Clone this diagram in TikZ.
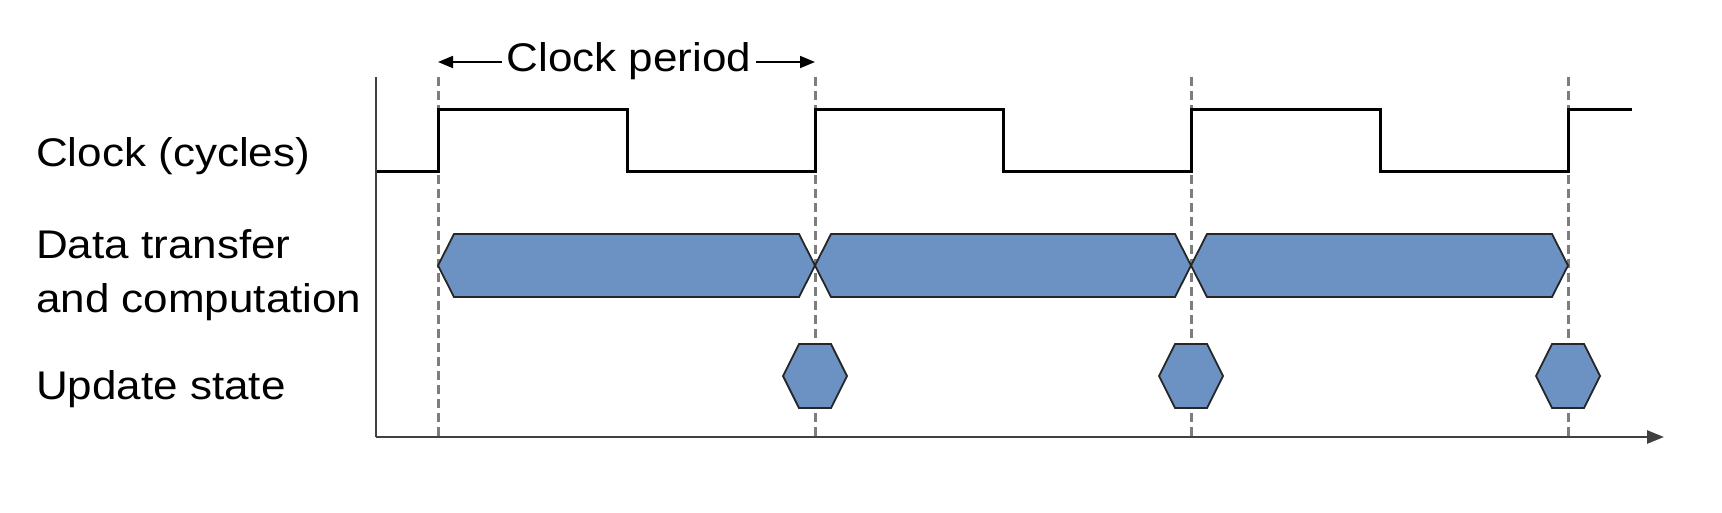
\documentclass[tikz,border=0pt]{standalone}
\usepackage{fontspec}
\setmainfont{Liberation Sans}
\newfontfamily\lblfont[FakeStretch=1.1]{Liberation Sans}
\usetikzlibrary{arrows.meta}
\definecolor{bandblue}{RGB}{108,146,196}
\definecolor{axisgray}{RGB}{64,64,64}
\definecolor{dashgray}{RGB}{125,125,125}
\tikzset{
  lbl/.style={font=\lblfont\fontsize{40}{54}\selectfont, inner sep=0pt, align=left},
  clk/.style={line width=3pt, black, line join=miter},
  guide/.style={line width=3pt, dashgray, dash pattern=on 9pt off 5pt},
  band/.style={fill=bandblue, draw=black!85, line width=1.8pt, line join=miter},
  axis/.style={line width=2.6pt, axisgray},
  dim/.style={line width=1.8pt, black, -{Triangle[length=15pt,width=12pt]}}
}
\begin{document}
\begin{tikzpicture}[x=1pt,y=-1pt]
\useasboundingbox (0,0) rectangle (1722,512);
% guides
\foreach \gx [count=\i] in {438,815,1191,1568}
  \draw[guide] (\gx,77) -- (\gx,437);
% axes
\coordinate (ytop) at (376,77);
\coordinate (orig) at (376,437);
\coordinate (xend) at (1664,437);
\draw[axis] (ytop) -- (orig);
\draw[axis, -{Triangle[length=17pt,width=13pt]}] (orig) -- (xend);
% clock
\draw[clk] (377,171) -- (438,171) -- (438,109) -- (627,109) -- (627,171)
  -- (815,171) -- (815,109) -- (1003,109) -- (1003,171) -- (1191,171)
  -- (1191,109) -- (1380,109) -- (1380,171) -- (1568,171) -- (1568,109) -- (1632,109);
% data bands
\foreach \a/\b in {438/815, 815/1191, 1191/1568}
  \draw[band] (\a,265.5) -- (\a+16,234) -- (\b-16,234) -- (\b,265.5) -- (\b-16,297) -- (\a+16,297) -- cycle;
% update state hexagons
\foreach \c in {815,1191,1568}
  \draw[band] (\c-32,376) -- (\c-16,344) -- (\c+16,344) -- (\c+32,376) -- (\c+16,408) -- (\c-16,408) -- cycle;
% clock period
\node[lbl, anchor=base, inner xsep=5pt] (cp) at (629,71) {Clock period};
\coordinate (cpL) at (438,62);
\coordinate (cpR) at (815,62);
\draw[dim] (cp.west |- cpL) -- (cpL);
\draw[dim] (cp.east |- cpR) -- (cpR);
% labels
\node[lbl, anchor=base west] (lclk) at (36,166) {Clock (cycles)};
\node[lbl, anchor=base west] (ldata1) at (36,258) {Data transfer};
\node[lbl, anchor=base west] (ldata2) at (36,312) {and computation};
\node[lbl, anchor=base west] (lupd) at (36,399) {Update state};
\end{tikzpicture}
\end{document}
